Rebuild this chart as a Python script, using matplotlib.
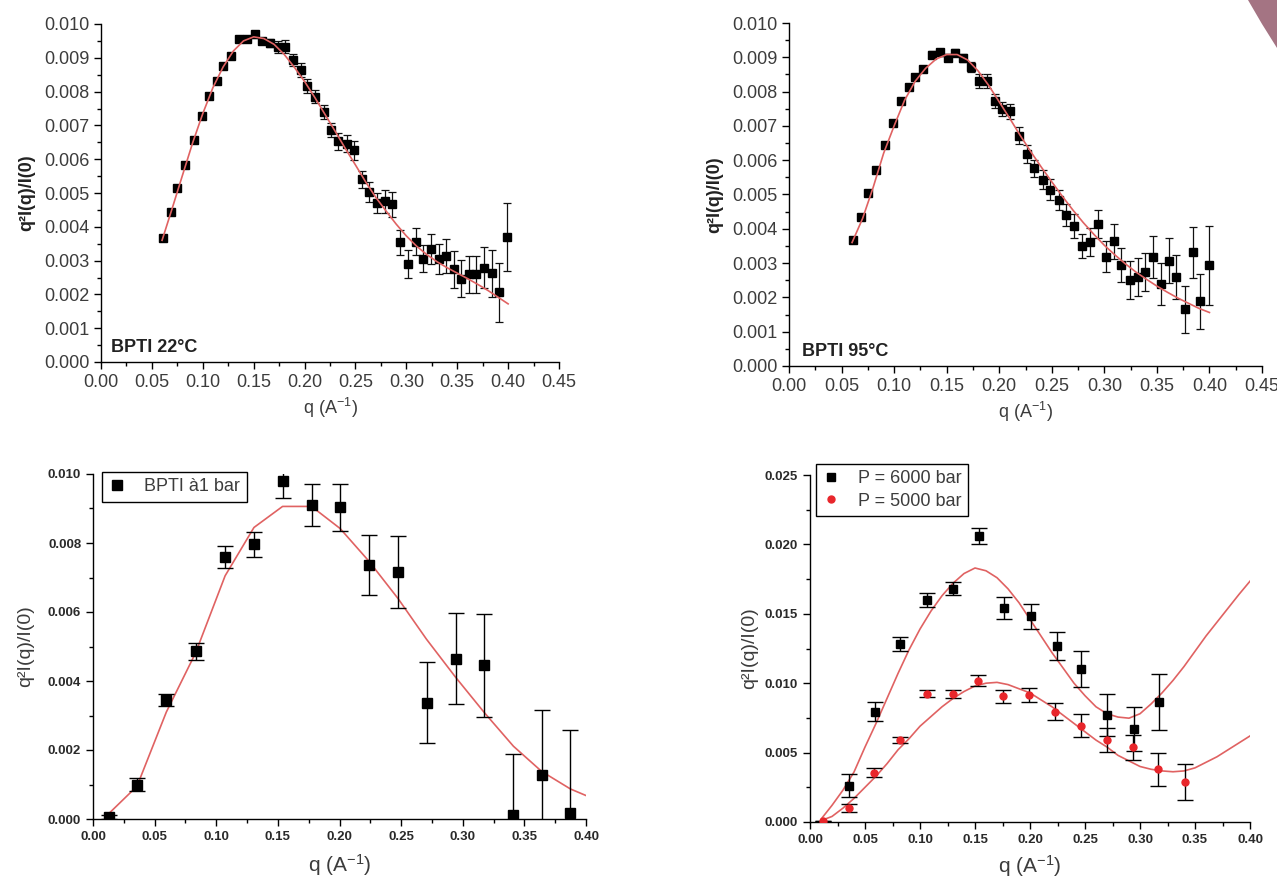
import matplotlib
matplotlib.use("Agg")
import matplotlib.pyplot as plt
from matplotlib.ticker import MultipleLocator
from matplotlib.patches import Polygon

plt.rcParams['font.family'] = ['Liberation Sans', 'DejaVu Sans']
plt.rcParams['mathtext.fontset'] = 'custom'
plt.rcParams['mathtext.rm'] = 'Liberation Sans'
plt.rcParams['mathtext.it'] = 'Liberation Sans:italic'
plt.rcParams['mathtext.bf'] = 'Liberation Sans:bold'

FIT_RED = '#e06262'
DOT_RED = '#e8262b'
TXT = '#3c3c3c'

# --- BPTI at ambient pressure, 22 and 95 degC (same q grid) ---
q_temp = [0.0612, 0.0684, 0.0751, 0.0830, 0.0909, 0.0988, 0.1063, 0.1138, 0.1202, 0.1277,
          0.1360, 0.1439, 0.1514, 0.1578, 0.1660, 0.1735, 0.1803, 0.1885, 0.1961, 0.2028,
          0.2107, 0.2190, 0.2261, 0.2329, 0.2415, 0.2487, 0.2565, 0.2637, 0.2712, 0.2791,
          0.2862, 0.2941, 0.3012, 0.3091, 0.3163, 0.3242, 0.3317, 0.3388, 0.3467, 0.3542,
          0.3617, 0.3685, 0.3768, 0.3843, 0.3914, 0.3993]
i_22 = [0.00368, 0.00443, 0.00515, 0.00584, 0.00656, 0.00728, 0.00787, 0.00832, 0.00876, 0.00906,
        0.00955, 0.00957, 0.00970, 0.00950, 0.00945, 0.00933, 0.00933, 0.00893, 0.00864, 0.00817,
        0.00785, 0.00740, 0.00686, 0.00653, 0.00646, 0.00626, 0.00540, 0.00503, 0.00470, 0.00475,
        0.00466, 0.00354, 0.00290, 0.00356, 0.00305, 0.00335, 0.00304, 0.00314, 0.00274, 0.00246,
        0.00259, 0.00259, 0.00279, 0.00262, 0.00206, 0.00369]
err_22 = [0.00008, 0.00008, 0.00008, 0.00008, 0.00008, 0.00008, 0.00008, 0.00008, 0.00008, 0.00008,
          0.00008, 0.00008, 0.00010, 0.00010, 0.00012, 0.00018, 0.00020, 0.00018, 0.00020, 0.00020,
          0.00020, 0.00020, 0.00020, 0.00025, 0.00025, 0.00027, 0.00025, 0.00030, 0.00030, 0.00035,
          0.00037, 0.00037, 0.00040, 0.00040, 0.00040, 0.00045, 0.00045, 0.00050, 0.00055, 0.00055,
          0.00055, 0.00055, 0.00060, 0.00070, 0.00088, 0.00100]
i_95 = [0.00366, 0.00433, 0.00503, 0.00572, 0.00645, 0.00709, 0.00773, 0.00812, 0.00843, 0.00867,
        0.00908, 0.00914, 0.00899, 0.00913, 0.00899, 0.00872, 0.00830, 0.00830, 0.00773, 0.00749,
        0.00743, 0.00671, 0.00618, 0.00577, 0.00543, 0.00514, 0.00484, 0.00439, 0.00409, 0.00349,
        0.00361, 0.00414, 0.00318, 0.00363, 0.00294, 0.00250, 0.00259, 0.00274, 0.00318, 0.00239,
        0.00307, 0.00260, 0.00165, 0.00331, 0.00189, 0.00294]
err_95 = [0.00008, 0.00008, 0.00008, 0.00008, 0.00008, 0.00008, 0.00008, 0.00008, 0.00008, 0.00008,
          0.00010, 0.00010, 0.00010, 0.00010, 0.00012, 0.00015, 0.00020, 0.00020, 0.00020, 0.00020,
          0.00022, 0.00025, 0.00025, 0.00025, 0.00028, 0.00030, 0.00030, 0.00032, 0.00035, 0.00035,
          0.00040, 0.00042, 0.00045, 0.00050, 0.00050, 0.00055, 0.00055, 0.00055, 0.00060, 0.00060,
          0.00065, 0.00065, 0.00068, 0.00075, 0.00080, 0.00115]

q_fit_temp = [0.06, 0.07, 0.08, 0.09, 0.10, 0.11, 0.12, 0.13, 0.14, 0.15, 0.16, 0.17,
              0.18, 0.19, 0.20, 0.21, 0.22, 0.23, 0.24, 0.25, 0.26, 0.27, 0.28, 0.29,
              0.30, 0.31, 0.32, 0.33, 0.34, 0.35, 0.36, 0.37, 0.38, 0.39, 0.40]
fit_22 = [0.00360, 0.00455, 0.00552, 0.00648, 0.00735, 0.00812, 0.00873, 0.00920, 0.00950, 0.00962,
          0.00957, 0.00940, 0.00910, 0.00872, 0.00830, 0.00783, 0.00733, 0.00683, 0.00632, 0.00583,
          0.00533, 0.00487, 0.00447, 0.00408, 0.00373, 0.00343, 0.00318, 0.00297, 0.00279, 0.00263,
          0.00247, 0.00230, 0.00212, 0.00192, 0.00172]
fit_95 = [0.00360, 0.00430, 0.00520, 0.00620, 0.00700, 0.00775, 0.00830, 0.00868, 0.00895, 0.00908,
          0.00908, 0.00892, 0.00860, 0.00818, 0.00770, 0.00722, 0.00672, 0.00625, 0.00580, 0.00537,
          0.00495, 0.00455, 0.00418, 0.00384, 0.00352, 0.00324, 0.00298, 0.00274, 0.00253, 0.00233,
          0.00215, 0.00198, 0.00183, 0.00168, 0.00156]

# --- BPTI at 1 bar ---
q_1bar = [0.0129, 0.0357, 0.0595, 0.0833, 0.1072, 0.1306, 0.1538, 0.1773, 0.2005,
          0.2237, 0.2475, 0.2706, 0.2944, 0.3176, 0.3411, 0.3640, 0.3874]
i_1bar = [0.00006, 0.00100, 0.00344, 0.00486, 0.00760, 0.00796, 0.00979, 0.00910, 0.00903,
          0.00736, 0.00716, 0.00337, 0.00465, 0.00445, 0.00013, 0.00128, 0.00017]
err_1bar = [0.00005, 0.00020, 0.00017, 0.00025, 0.00032, 0.00037, 0.00050, 0.00060, 0.00068,
            0.00087, 0.00105, 0.00118, 0.00133, 0.00150, 0.00176, 0.00188, 0.00240]
q_fit_1bar = [0.0106, 0.0357, 0.0595, 0.0833, 0.1072, 0.1306, 0.1538, 0.1773, 0.2005,
              0.2237, 0.2475, 0.2706, 0.2944, 0.3176, 0.3411, 0.3640, 0.3874, 0.4000]
fit_1bar = [0.00008, 0.00095, 0.00310, 0.00482, 0.00705, 0.00845, 0.00906, 0.00906, 0.00842,
            0.00748, 0.00639, 0.00521, 0.00410, 0.00308, 0.00211, 0.00138, 0.00087, 0.00068]

# --- high pressure ---
q_6000 = [0.0354, 0.0592, 0.0817, 0.1065, 0.1297, 0.1535, 0.1760, 0.2008, 0.2243,
          0.2465, 0.2703, 0.2941, 0.3173]
i_6000 = [0.00262, 0.00796, 0.01282, 0.01598, 0.01682, 0.02060, 0.01540, 0.01482, 0.01270,
          0.01102, 0.00772, 0.00671, 0.00866]
err_6000 = [0.00085, 0.00070, 0.00050, 0.00050, 0.00050, 0.00060, 0.00080, 0.00090, 0.00100,
            0.00130, 0.00150, 0.00160, 0.00200]
q_5000 = [0.0116, 0.0351, 0.0586, 0.0817, 0.1065, 0.1297, 0.1529, 0.1754, 0.1992,
          0.2223, 0.2465, 0.2697, 0.2935, 0.3167, 0.3405]
i_5000 = [0.00005, 0.00099, 0.00356, 0.00590, 0.00924, 0.00924, 0.01018, 0.00905, 0.00917,
          0.00796, 0.00695, 0.00592, 0.00539, 0.00380, 0.00286]
err_5000 = [0.0, 0.00030, 0.00035, 0.00020, 0.00025, 0.00028, 0.00040, 0.00045, 0.00050,
            0.00060, 0.00080, 0.00085, 0.00090, 0.00120, 0.00130]

q_fit_hp = [0.01, 0.02, 0.03, 0.04, 0.05, 0.06, 0.07, 0.08, 0.09, 0.10, 0.11, 0.12, 0.13, 0.14,
            0.15, 0.16, 0.17, 0.18, 0.19, 0.20, 0.21, 0.22, 0.23, 0.24, 0.25, 0.26, 0.27, 0.28,
            0.29, 0.30, 0.31, 0.32, 0.33, 0.34, 0.35, 0.36, 0.37, 0.38, 0.39, 0.40]
fit_6000 = [0.0002, 0.0012, 0.0023, 0.0036, 0.0054, 0.0071, 0.0089, 0.0107, 0.0124, 0.0139,
            0.0152, 0.0163, 0.0172, 0.0179, 0.0183, 0.0181, 0.0176, 0.0168, 0.0158, 0.0146,
            0.0134, 0.0122, 0.0111, 0.0100, 0.0091, 0.0083, 0.0078, 0.00756, 0.00748, 0.0078,
            0.0085, 0.0093, 0.0102, 0.0112, 0.0123, 0.0134, 0.0144, 0.0154, 0.0164, 0.01735]
fit_5000 = [0.0001, 0.0004, 0.0010, 0.0017, 0.0025, 0.0033, 0.0042, 0.0052, 0.0060, 0.0069,
            0.0076, 0.0083, 0.0089, 0.0094, 0.0098, 0.0100, 0.01006, 0.0099, 0.0096, 0.0093,
            0.0088, 0.0083, 0.0077, 0.0071, 0.0065, 0.0059, 0.0054, 0.0048, 0.0044, 0.0040,
            0.0038, 0.00368, 0.00362, 0.00368, 0.0039, 0.0043, 0.0047, 0.0052, 0.0057, 0.0062]

W, H = 1277, 881


def px_rect(left, top, right, bottom):
    return [left / W, 1 - bottom / H, (right - left) / W, (bottom - top) / H]


def style_axes(ax, xmax, ymax, xstep, ystep, size, weight, color):
    ax.set_xlim(0, xmax)
    ax.set_ylim(0, ymax)
    for side in ('top', 'right'):
        ax.spines[side].set_visible(False)
    for side in ('left', 'bottom'):
        ax.spines[side].set_linewidth(1.0)
    ax.xaxis.set_major_locator(MultipleLocator(xstep))
    ax.xaxis.set_minor_locator(MultipleLocator(xstep / 2))
    ax.yaxis.set_major_locator(MultipleLocator(ystep))
    ax.yaxis.set_minor_locator(MultipleLocator(ystep / 2))
    ax.tick_params(which='major', direction='out', length=5, width=1.0,
                   labelsize=size, labelcolor=color)
    ax.tick_params(which='minor', direction='out', length=3, width=1.0)
    for lab in ax.get_xticklabels() + ax.get_yticklabels():
        lab.set_fontweight(weight)
    ax.xaxis.set_major_formatter(plt.FuncFormatter(lambda v, p: f"{v:.2f}"))
    ax.yaxis.set_major_formatter(plt.FuncFormatter(lambda v, p: f"{v:.3f}"))


fig = plt.figure(figsize=(W / 100, H / 100), dpi=100)

# top row: temperature series
for rect, yvals, errs, fit, tag, tag_x in [
        (px_rect(101, 24, 559, 362), i_22, err_22, fit_22, "BPTI 22\u00b0C", 0.0095),
        (px_rect(789, 23, 1262, 366), i_95, err_95, fit_95, "BPTI 95\u00b0C", 0.0124)]:
    ax = fig.add_axes(rect)
    ax.errorbar(q_temp, yvals, yerr=errs, fmt='s', color='black', ms=6,
                ecolor='#111111', elinewidth=0.9, capsize=3, capthick=0.9, zorder=2)
    ax.plot(q_fit_temp, fit, color=FIT_RED, lw=1.2, zorder=3)
    style_axes(ax, 0.45, 0.010, 0.05, 0.001, 13, 'normal', TXT)
    ax.set_ylabel("q\u00b2I(q)/I(0)", fontsize=13, fontweight='bold', color='#222222', labelpad=6)
    ax.set_xlabel(r"q (A$^{-1}$)", fontsize=13, color=TXT, labelpad=4)
    ax.text(tag_x, 0.0003, tag, fontsize=13, fontweight='bold', color='#222222', va='baseline')

# bottom left: 1 bar
ax = fig.add_axes(px_rect(93, 474, 586, 819))
ax.plot(q_fit_1bar, fit_1bar, color=FIT_RED, lw=1.2, zorder=1)
eb = ax.errorbar(q_1bar, i_1bar, yerr=err_1bar, fmt='s', color='black', ms=7,
                 ecolor='black', elinewidth=1.0, capsize=6, capthick=1.0, zorder=2)
style_axes(ax, 0.40, 0.010, 0.05, 0.002, 9.5, 'bold', '#2a2a2a')
ax.yaxis.set_minor_locator(MultipleLocator(0.001))
ax.set_ylabel("q\u00b2I(q)/I(0)", fontsize=14, color=TXT, labelpad=10)
ax.set_xlabel(r"q (A$^{-1}$)", fontsize=15, color=TXT, labelpad=7)
leg = ax.legend([eb[0]], ["BPTI \u00e01 bar"], loc='upper left',
                bbox_to_anchor=(102 / W, 1 - 472 / H), bbox_transform=fig.transFigure,
                borderaxespad=0, fancybox=False, framealpha=1, edgecolor='black',
                fontsize=13, handlelength=1.0, handletextpad=1.0, borderpad=0.35,
                labelcolor=TXT)
leg.get_frame().set_linewidth(1.0)

# bottom right: high pressure
ax = fig.add_axes(px_rect(810, 475, 1250, 822))
ax.plot(q_fit_hp, fit_6000, color=FIT_RED, lw=1.2, zorder=1)
ax.plot(q_fit_hp, fit_5000, color=FIT_RED, lw=1.2, zorder=1)
eb6 = ax.errorbar(q_6000, i_6000, yerr=err_6000, fmt='s', color='black', ms=5.5,
                  ecolor='black', elinewidth=1.0, capsize=5.5, capthick=1.0, zorder=2)
eb5 = ax.errorbar(q_5000, i_5000, yerr=err_5000, fmt='o', color=DOT_RED, ms=5,
                  ecolor='black', elinewidth=1.0, capsize=5.5, capthick=1.0, zorder=3)
style_axes(ax, 0.40, 0.025, 0.05, 0.005, 9.5, 'bold', '#2a2a2a')
ax.set_ylabel("q\u00b2I(q)/I(0)", fontsize=14, color=TXT, labelpad=5)
ax.set_xlabel(r"q (A$^{-1}$)", fontsize=15, color=TXT, labelpad=5)
leg = ax.legend([eb6[0], eb5[0]], ["P = 6000 bar", "P = 5000 bar"], loc='upper left',
                bbox_to_anchor=(816 / W, 1 - 464 / H), bbox_transform=fig.transFigure,
                borderaxespad=0, fancybox=False, framealpha=1, edgecolor='black',
                fontsize=13, handlelength=1.0, handletextpad=1.0, borderpad=0.35,
                labelspacing=0.3, labelcolor=TXT)
leg.get_frame().set_linewidth(1.0)

# page-corner tab
corner = [(1248 / W, 1.0), (1.0, 1.0), (1.0, 1 - 48 / H), (1262 / W, 1 - 24 / H)]
fig.add_artist(Polygon(corner, closed=True, transform=fig.transFigure,
                       facecolor='#a47483', edgecolor='none'))

fig.savefig("out.png", dpi=100)
